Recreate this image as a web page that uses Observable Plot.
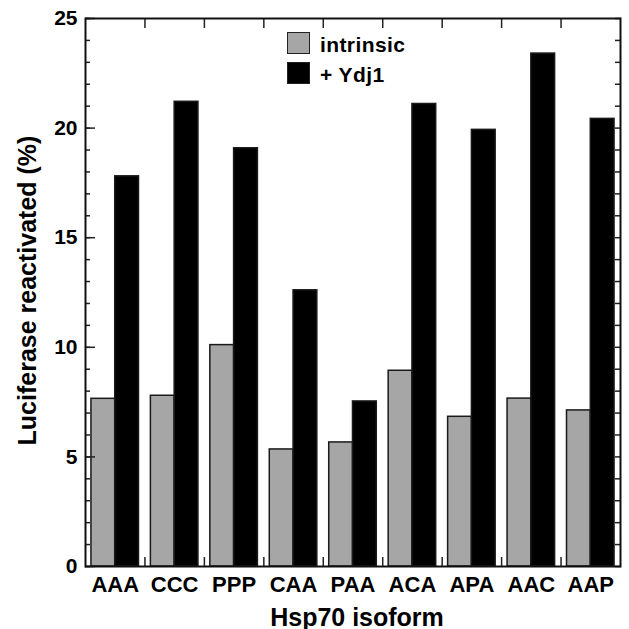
<!DOCTYPE html>
<html>
<head>
<meta charset="utf-8">
<script src="https://cdn.jsdelivr.net/npm/d3@7"></script>
<script src="https://cdn.jsdelivr.net/npm/@observablehq/plot@0.6"></script>
<style>
  html, body { margin: 0; padding: 0; background: #fff; }
  #wrap { position: relative; width: 629px; height: 629px; font-family: "Liberation Sans", Arial, sans-serif; }
  .lg-box { position: absolute; width: 23px; height: 22px; box-sizing: border-box; border: 1.5px solid #222; }
  .lg-text { position: absolute; font-size: 21px; font-weight: bold; line-height: 24px; letter-spacing: 0.4px; color: #000; white-space: nowrap; }
</style>
</head>
<body>
<div id="wrap"></div>
<script>
const isoforms = ["AAA", "CCC", "PPP", "CAA", "PAA", "ACA", "APA", "AAC", "AAP"];
const intrinsic = [7.65, 7.79, 10.1, 5.34, 5.66, 8.93, 6.83, 7.66, 7.12];
const ydj1 = [17.8, 21.2, 19.08, 12.6, 7.53, 21.1, 19.92, 23.4, 20.42];
const seriesNames = ["intrinsic", "+ Ydj1"];
const seriesColors = ["#a6a6a6", "#000000"];
const yMajorTicks = [0, 5, 10, 15, 20, 25];
const yTitle = "Luciferase reactivated (%)";
const xTitle = "Hsp70 isoform";

const rows = [];
isoforms.forEach((iso, i) => {
  rows.push({iso, i, series: seriesNames[0], value: intrinsic[i], x1: i + 0.1, x2: i + 0.5});
  rows.push({iso, i, series: seriesNames[1], value: ydj1[i], x1: i + 0.5, x2: i + 0.9});
});

const minorY = d3.range(0, 26, 1);
const bounds = d3.range(1, isoforms.length);
const centers = isoforms.map((d, i) => i + 0.5);

const chart = Plot.plot({
  width: 629,
  height: 629,
  marginLeft: 85,
  marginRight: 9,
  marginTop: 18,
  marginBottom: 63,
  style: {fontFamily: "'Liberation Sans', Arial, sans-serif", background: "#fff"},
  x: {domain: [0, isoforms.length], axis: null},
  y: {domain: [0, 25], axis: null},
  color: {domain: seriesNames, range: seriesColors},
  marks: [
    Plot.rect(rows, {
      x1: "x1", x2: "x2", y1: 0, y2: "value",
      fill: "series",
      stroke: "#1a1a1a", strokeWidth: 1.5
    }),
    // left inward minor & major ticks
    Plot.axisY({anchor: "left", ticks: minorY, tickSize: -5, tickFormat: () => "", label: null, strokeWidth: 1.5, stroke: "#222"}),
    Plot.axisY({anchor: "left", ticks: yMajorTicks, tickSize: -10, tickFormat: () => "", label: null, strokeWidth: 1.5, stroke: "#222"}),
    Plot.axisY({anchor: "left", ticks: yMajorTicks, tickSize: 0, tickPadding: 8, label: null, fontSize: 21, fontWeight: "bold", fill: "#000"}),
    // right inward ticks
    Plot.axisY({anchor: "right", ticks: minorY, tickSize: -6, tickFormat: () => "", label: null, strokeWidth: 1.5, stroke: "#222"}),
    // top & bottom category boundary ticks
    Plot.axisX({anchor: "top", ticks: bounds, tickSize: -9, tickFormat: () => "", label: null, strokeWidth: 1.5, stroke: "#222"}),
    Plot.axisX({anchor: "bottom", ticks: bounds, tickSize: -9, tickFormat: () => "", label: null, strokeWidth: 1.5, stroke: "#222"}),
    // category labels
    Plot.axisX({anchor: "bottom", ticks: centers, tickSize: 0, tickPadding: 10, tickFormat: v => isoforms[Math.floor(v)], label: null, fontSize: 22, fontWeight: "bold", fill: "#000"}),
    Plot.frame({stroke: "#111", strokeWidth: 2}),
    Plot.text([yTitle], {frameAnchor: "left", rotate: -90, dx: -58, dy: -2, text: d => d, textAnchor: "middle", fontSize: 25, fontWeight: "bold", fill: "#000", lineAnchor: "middle"}),
    Plot.text([xTitle], {frameAnchor: "bottom", dy: 51, dx: 4, text: d => d, textAnchor: "middle", fontSize: 25, fontWeight: "bold", fill: "#000", lineAnchor: "middle"})
  ]
});

const wrap = document.getElementById("wrap");
wrap.appendChild(chart);

// legend overlay (inside plot area, top)
const legendTops = [32, 62];
seriesNames.forEach((name, k) => {
  const box = document.createElement("div");
  box.className = "lg-box";
  box.style.left = "287px";
  box.style.top = legendTops[k] + "px";
  box.style.background = seriesColors[k];
  wrap.appendChild(box);
  const t = document.createElement("div");
  t.className = "lg-text";
  t.style.left = "320px";
  t.style.top = (legendTops[k] + 0.5) + "px";
  t.textContent = name;
  wrap.appendChild(t);
});
</script>
</body>
</html>
